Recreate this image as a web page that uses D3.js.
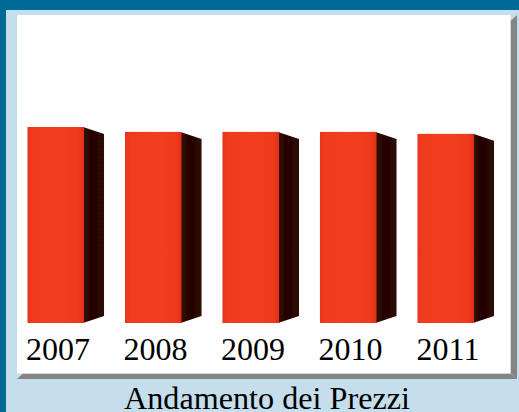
<!DOCTYPE html>
<html><head><meta charset="utf-8">
<script src="https://cdn.jsdelivr.net/npm/d3@7/dist/d3.min.js"></script>
<style>html,body{margin:0;padding:0;background:#006a96;overflow:hidden}svg{display:block}</style>
</head><body><script>
const years = ["2007","2008","2009","2010","2011"];
const prices = [100, 97.5, 97.5, 97.5, 96.5];
const chartTitle = "Andamento dei Prezzi";

const W = 519, H = 412;
const svg = d3.select("body").append("svg").attr("width", W).attr("height", H);
const font = "'Liberation Serif','Times New Roman',serif";

const defs = svg.append("defs");
const grad = defs.append("linearGradient").attr("id","front");
[[0,"#e8341c"],[0.08,"#f03a1e"],[0.5,"#f23e20"],[0.9,"#ee3a1e"],[1,"#e03018"]].forEach(s =>
  grad.append("stop").attr("offset",s[0]).attr("stop-color",s[1]));
const gradS = defs.append("linearGradient").attr("id","side");
[[0,"#340a04"],[0.4,"#240503"],[1,"#2c0806"]].forEach(s =>
  gradS.append("stop").attr("offset",s[0]).attr("stop-color",s[1]));
defs.append("filter").attr("id","soft").append("feGaussianBlur").attr("stdDeviation",0.7);

// frame
svg.append("rect").attr("width",W).attr("height",H).attr("fill","#006a96");
svg.append("rect").attr("x",6).attr("y",10).attr("width",W-6).attr("height",H-10).attr("fill","#c5deeb");
svg.append("polygon").attr("points","510.5,21 517,15 517,379 510.5,373.5").attr("fill","#848484");
svg.append("polygon").attr("points","17,379 23,373.5 510.5,373.5 517,379").attr("fill","#848484");
svg.append("rect").attr("x",17).attr("y",15).attr("width",493.5).attr("height",358.5).attr("fill","#fff");

// scales
const x = d3.scaleBand().domain(years).range([27,474]).paddingInner(0.415).paddingOuter(0);
const y = d3.scaleLinear().domain([0,100]).range([323,127]);
const depthX = 20, depthY = 7;

const g = svg.append("g").attr("filter","url(#soft)");
const bars = g.selectAll("g.bar").data(years.map((yr,i)=>({yr,v:prices[i]}))).join("g").attr("class","bar");
bars.append("polygon").attr("fill","url(#side)").attr("points", d => {
  const r = x(d.yr)+x.bandwidth()-1, t = y(d.v), b = y(0);
  return [[r,t],[r+depthX+1,t+depthY],[r+depthX+1,b-depthY],[r,b]].join(" ");
});
bars.append("rect").attr("fill","url(#front)")
  .attr("x", d=>x(d.yr)+0.5).attr("y", d=>y(d.v))
  .attr("width", x.bandwidth()-0.5).attr("height", d=>y(0)-y(d.v));

// labels
svg.selectAll("text.yr").data(years).join("text").attr("class","yr")
  .attr("x", d=>x(d)+x.bandwidth()/2+2.5).attr("y",360)
  .attr("text-anchor","middle").attr("font-family",font).attr("font-size",32)
  .attr("fill","#000").text(d=>d);

svg.append("text").attr("x",267).attr("y",408.5).attr("text-anchor","middle")
  .attr("font-family",font).attr("font-size",32.2).attr("fill","#000").text(chartTitle);
</script></body></html>
